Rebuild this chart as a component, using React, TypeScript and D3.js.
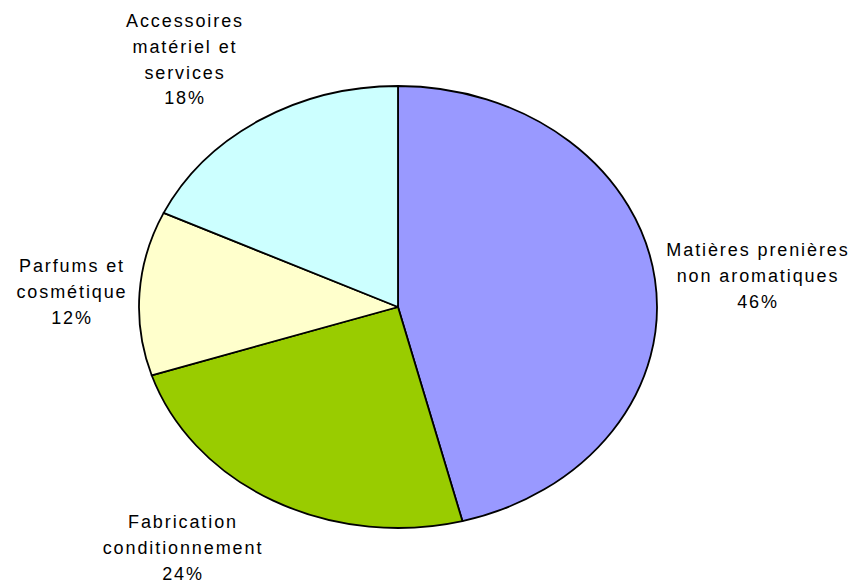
import React from "react";
import * as d3 from "d3";

const categories = ["Matières prenières non aromatiques", "Fabrication conditionnement", "Parfums et cosmétique", "Accessoires matériel et services"];
const values = [46, 24, 12, 18];
const colors = ["#9999FF", "#99CC00", "#FFFFCC", "#CCFFFF"];
const labelLines = [
  ["Matières prenières", "non aromatiques", "46%"],
  ["Fabrication", "conditionnement", "24%"],
  ["Parfums et", "cosmétique", "12%"],
  ["Accessoires", "matériel et", "services", "18%"],
];
const labelPos = [
  [758, 256],
  [183, 528],
  [72, 272],
  [185, 27],
];

const W = 858, H = 588;
const cx = 398, cy = 307, rx = 259, ry = 221;

export default function App() {
  const pie = d3.pie<number>().sort(null).value((d) => d);
  const arcs = pie(values);
  const arc = d3.arc<d3.PieArcDatum<number>>().innerRadius(0).outerRadius(ry);
  return (
    <svg width={W} height={H} style={{ position: "absolute", left: 0, top: 0 }}>
      <rect width={W} height={H} fill="#fff" />
      <g transform={`translate(${cx},${cy}) scale(${rx / ry},1)`}>
        {arcs.map((a, i) => (
          <path key={i} d={arc(a) || ""} fill={colors[i]} stroke="#000" strokeWidth={1.8} vectorEffect="non-scaling-stroke" strokeLinejoin="round">
            <title>{categories[i]}</title>
          </path>
        ))}
      </g>
      {labelLines.map((lines, i) => (
        <text key={i} x={labelPos[i][0]} y={labelPos[i][1]} textAnchor="middle" fontFamily="'Liberation Sans', Arial, sans-serif" fontSize={18} letterSpacing={1.9} fill="#000">
          {lines.map((l, j) => (
            <tspan key={j} x={labelPos[i][0]} dy={j === 0 ? 0 : 25.8}>{l}</tspan>
          ))}
        </text>
      ))}
    </svg>
  );
}
